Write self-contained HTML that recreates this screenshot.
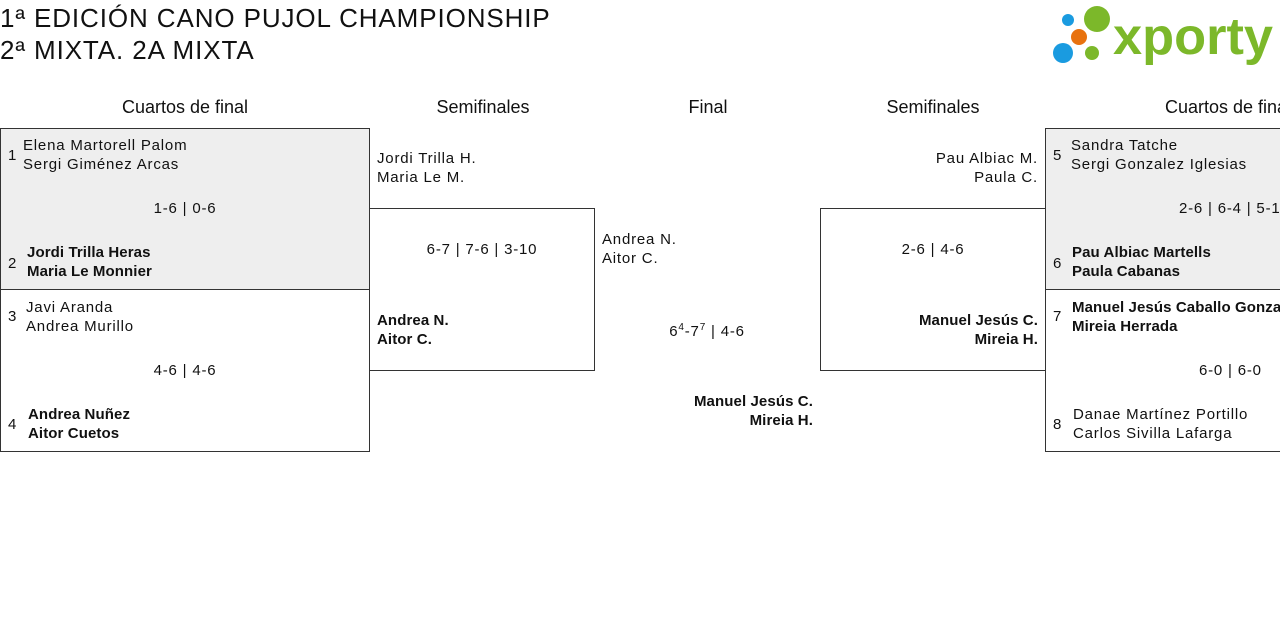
<!DOCTYPE html>
<html><head><meta charset="utf-8"><style>
body{margin:0;width:1280px;height:631px;overflow:hidden;background:#fff;font-family:"Liberation Sans",sans-serif;color:#111;position:relative}
.a{position:absolute;white-space:nowrap;font-size:15px;line-height:19px;letter-spacing:0.8px}
.b{font-weight:bold;letter-spacing:0.1px}
.box{position:absolute;border:1px solid #333;box-sizing:border-box}
.h{position:absolute;font-size:18px;line-height:22px;transform:translateX(-50%);white-space:nowrap}
.r{text-align:right}
.c{transform:translateX(-50%)}
</style></head><body>
<div class="a" style="left:0;top:2px;font-size:26px;line-height:32px;letter-spacing:0.9px">1ª EDICIÓN CANO PUJOL CHAMPIONSHIP<br>2ª MIXTA. 2A MIXTA</div>
<svg style="position:absolute;left:1050px;top:2px" width="230" height="64">
<circle cx="18" cy="18" r="6" fill="#1a9be0"/><circle cx="47" cy="17" r="13" fill="#7cb82a"/>
<circle cx="29" cy="35" r="8" fill="#e8720f"/><circle cx="13" cy="51" r="10" fill="#1a9be0"/><circle cx="42" cy="51" r="7" fill="#7cb82a"/>
<text x="63" y="52" font-family="Liberation Sans" font-weight="bold" font-size="52" fill="#7cb82a" textLength="160" lengthAdjust="spacingAndGlyphs">xporty</text></svg>

<div class="h" style="left:185px;top:96px">Cuartos de final</div>
<div class="h" style="left:483px;top:96px">Semifinales</div>
<div class="h" style="left:708px;top:96px">Final</div>
<div class="h" style="left:933px;top:96px">Semifinales</div>
<div class="h" style="left:1228px;top:96px">Cuartos de final</div>

<div class="box" style="left:0;top:128px;width:370px;height:162px;background:#eee"></div>
<div class="box" style="left:0;top:289px;width:370px;height:163px"></div>
<div class="box" style="left:369px;top:208px;width:226px;height:163px"></div>
<div class="box" style="left:820px;top:208px;width:226px;height:163px"></div>
<div class="box" style="left:1045px;top:128px;width:240px;height:162px;background:#eee"></div>
<div class="box" style="left:1045px;top:289px;width:240px;height:163px"></div>

<div class="a" style="left:8px;top:146px">1</div>
<div class="a" style="left:23px;top:136px">Elena Martorell Palom<br>Sergi Giménez Arcas</div>
<div class="a c" style="left:185px;top:199px">1-6 | 0-6</div>
<div class="a" style="left:8px;top:254px">2</div>
<div class="a b" style="left:27px;top:243px">Jordi Trilla Heras<br>Maria Le Monnier</div>
<div class="a" style="left:8px;top:307px">3</div>
<div class="a" style="left:26px;top:298px">Javi Aranda<br>Andrea Murillo</div>
<div class="a c" style="left:185px;top:361px">4-6 | 4-6</div>
<div class="a" style="left:8px;top:415px">4</div>
<div class="a b" style="left:28px;top:405px">Andrea Nuñez<br>Aitor Cuetos</div>

<div class="a" style="left:377px;top:149px">Jordi Trilla H.<br>Maria Le M.</div>
<div class="a c" style="left:482px;top:240px">6-7 | 7-6 | 3-10</div>
<div class="a b" style="left:377px;top:311px">Andrea N.<br>Aitor C.</div>

<div class="a" style="left:602px;top:230px">Andrea N.<br>Aitor C.</div>
<div class="a c" style="left:707px;top:322px">6<sup style="font-size:10px;line-height:0">4</sup>-7<sup style="font-size:10px;line-height:0">7</sup> | 4-6</div>
<div class="a b r" style="right:467px;top:392px">Manuel Jesús C.<br>Mireia H.</div>

<div class="a r" style="right:242px;top:149px">Pau Albiac M.<br>Paula C.</div>
<div class="a c" style="left:933px;top:240px">2-6 | 4-6</div>
<div class="a b r" style="right:242px;top:311px">Manuel Jesús C.<br>Mireia H.</div>

<div class="a" style="left:1053px;top:146px">5</div>
<div class="a" style="left:1071px;top:136px">Sandra Tatche<br>Sergi Gonzalez Iglesias</div>
<div class="a" style="left:1179px;top:199px">2-6 | 6-4 | 5-10</div>
<div class="a" style="left:1053px;top:254px">6</div>
<div class="a b" style="left:1072px;top:243px">Pau Albiac Martells<br>Paula Cabanas</div>
<div class="a" style="left:1053px;top:307px">7</div>
<div class="a b" style="left:1072px;top:298px">Manuel Jesús Caballo Gonzalez<br>Mireia Herrada</div>
<div class="a" style="left:1199px;top:361px">6-0 | 6-0</div>
<div class="a" style="left:1053px;top:415px">8</div>
<div class="a" style="left:1073px;top:405px">Danae Martínez Portillo<br>Carlos Sivilla Lafarga</div>
</body></html>
